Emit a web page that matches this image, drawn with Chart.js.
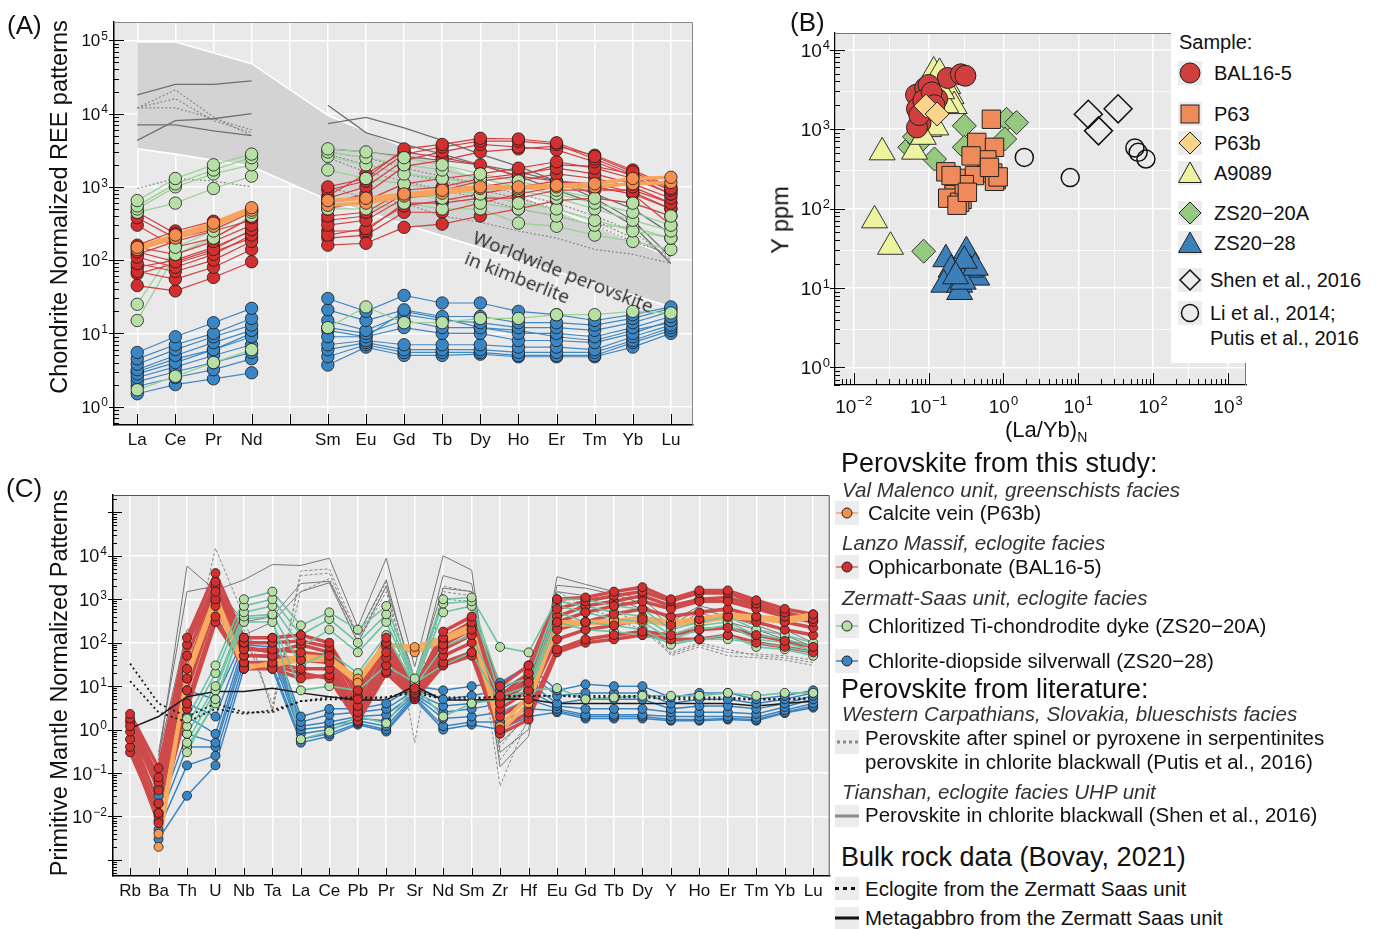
<!DOCTYPE html>
<html>
<head>
<meta charset="utf-8">
<title>Perovskite REE and trace element patterns</title>
<script src="https://cdn.jsdelivr.net/npm/chart.js@4.4.1/dist/chart.umd.min.js"></script>
<style>
  body { margin: 0; background: #fff; font-family: "Liberation Sans", Arial, sans-serif; color: #111; }
  #page { position: relative; width: 1381px; height: 929px; overflow: hidden; }
  canvas { position: absolute; }
  .t { position: absolute; white-space: nowrap; line-height: 1; }
  .panel { font-size: 26px; }
  .ytitle { font-size: 23.5px; transform: translate(-50%, -50%) rotate(-90deg); }
  .h { font-size: 27px; }
  .it { font-size: 20.6px; font-style: italic; color: #333; }
  .e { font-size: 20.5px; }
  .eb { font-size: 20px; }
  .key { position: absolute; background: #ececec; }
  .key svg { display: block; }
  #legB { position: absolute; left: 1171px; top: 30px; width: 210px; height: 333px; background: #fff; }
  .note { position: absolute; left: 478px; top: 226px; font-family: "Open Sans", sans-serif; font-size: 19px; line-height: 22px; color: #2a2a2a; transform-origin: 0 0; transform: rotate(21.5deg); white-space: nowrap; }
</style>
</head>
<body>
<div id="page">
  <canvas id="chartA" width="700" height="450" style="left:0;top:0"></canvas>
  <canvas id="chartB" width="621" height="450" style="left:760px;top:0"></canvas>
  <canvas id="chartC" width="835" height="459" style="left:0;top:470px"></canvas>

  <div class="t panel" style="left:7px;top:12px">(A)</div>
  <div class="t panel" style="left:790px;top:9px">(B)</div>
  <div class="t panel" style="left:6px;top:475px">(C)</div>

  <div class="t ytitle" style="left:60px;top:207px">Chondrite Normalized REE patterns</div>
  <div class="t ytitle" style="left:60px;top:683px">Primitive Mantle Normalized Patterns</div>
  <div class="t ytitle" style="left:781px;top:220px">Y ppm</div>
  <div class="t" style="left:1005px;top:419px;font-size:22px">(La/Yb)<sub style="font-size:14px">N</sub></div>

  <div class="note">Worldwide perovskite<br>in kimberlite</div>

  <!-- legend of panel B -->
  <div id="legB">
    <div class="t eb" style="left:8px;top:2px">Sample:</div>
    <div class="key" style="left:7px;top:31px;width:24px;height:24px"><svg width="24" height="24"><circle cx="12" cy="12" r="10" fill="#d13e3e" stroke="#222"/></svg></div>
    <div class="t eb" style="left:43px;top:33px">BAL16-5</div>
    <div class="key" style="left:7px;top:72px;width:24px;height:24px"><svg width="24" height="24"><rect x="3" y="3" width="18" height="18" fill="#ef8a5b" stroke="#222"/></svg></div>
    <div class="t eb" style="left:43px;top:74px">P63</div>
    <div class="key" style="left:7px;top:101px;width:24px;height:24px"><svg width="24" height="24"><polygon points="12,1 23,12 12,23 1,12" fill="#fbd48a" stroke="#222"/></svg></div>
    <div class="t eb" style="left:43px;top:103px">P63b</div>
    <div class="key" style="left:7px;top:131px;width:24px;height:24px"><svg width="24" height="24"><polygon points="12,1 23.5,21.5 0.5,21.5" fill="#eef3a0" stroke="#222"/></svg></div>
    <div class="t eb" style="left:43px;top:133px">A9089</div>
    <div class="key" style="left:7px;top:171px;width:24px;height:24px"><svg width="24" height="24"><polygon points="12,1 23,12 12,23 1,12" fill="#94c97f" stroke="#222"/></svg></div>
    <div class="t eb" style="left:43px;top:173px">ZS20&#8722;20A</div>
    <div class="key" style="left:7px;top:201px;width:24px;height:24px"><svg width="24" height="24"><polygon points="12,1 23.5,21.5 0.5,21.5" fill="#3b7fbb" stroke="#222"/></svg></div>
    <div class="t eb" style="left:43px;top:203px">ZS20&#8722;28</div>
    <div class="key" style="left:7px;top:238px;width:24px;height:24px"><svg width="24" height="24"><polygon points="12,2 22,12 12,22 2,12" fill="none" stroke="#111" stroke-width="1.5"/></svg></div>
    <div class="t eb" style="left:39px;top:240px">Shen et al., 2016</div>
    <div class="key" style="left:7px;top:271px;width:24px;height:24px"><svg width="24" height="24"><circle cx="12" cy="12" r="8.5" fill="none" stroke="#111" stroke-width="1.5"/></svg></div>
    <div class="t eb" style="left:39px;top:273px">Li et al., 2014;</div>
    <div class="t eb" style="left:39px;top:298px">Putis et al., 2016</div>
  </div>

  <!-- legend of panel C -->
  <div class="t h" style="left:841px;top:450px">Perovskite from this study:</div>
  <div class="t it" style="left:842px;top:480px">Val Malenco unit, greenschists facies</div>
  <div class="key" style="left:835px;top:501px;width:24px;height:24px"><svg width="24" height="24"><line x1="1" y1="12" x2="23" y2="12" stroke="#f7a35c" stroke-width="1.5"/><circle cx="12" cy="12" r="5" fill="#f58d4f" stroke="#222"/></svg></div>
  <div class="t e" style="left:868px;top:503px">Calcite vein (P63b)</div>
  <div class="t it" style="left:842px;top:533px">Lanzo Massif, eclogite facies</div>
  <div class="key" style="left:835px;top:555px;width:24px;height:24px"><svg width="24" height="24"><line x1="1" y1="12" x2="23" y2="12" stroke="#e06a6a" stroke-width="1.5"/><circle cx="12" cy="12" r="5" fill="#d32f2f" stroke="#222"/></svg></div>
  <div class="t e" style="left:868px;top:557px">Ophicarbonate (BAL16-5)</div>
  <div class="t it" style="left:842px;top:588px">Zermatt-Saas unit, eclogite facies</div>
  <div class="key" style="left:835px;top:614px;width:24px;height:24px"><svg width="24" height="24"><line x1="1" y1="12" x2="23" y2="12" stroke="#8fd19a" stroke-width="1.5"/><circle cx="12" cy="12" r="5" fill="#b6e0a5" stroke="#222"/></svg></div>
  <div class="t e" style="left:868px;top:616px">Chloritized Ti-chondrodite dyke (ZS20&#8722;20A)</div>
  <div class="key" style="left:835px;top:649px;width:24px;height:24px"><svg width="24" height="24"><line x1="1" y1="12" x2="23" y2="12" stroke="#3b84c2" stroke-width="1.5"/><circle cx="12" cy="12" r="5" fill="#3a85c4" stroke="#222"/></svg></div>
  <div class="t e" style="left:868px;top:651px">Chlorite-diopside silverwall (ZS20&#8722;28)</div>
  <div class="t h" style="left:841px;top:676px">Perovskite from literature:</div>
  <div class="t it" style="left:842px;top:704px">Western Carpathians, Slovakia, blueschists facies</div>
  <div class="key" style="left:835px;top:730px;width:24px;height:24px"><svg width="24" height="24"><line x1="2" y1="12" x2="23" y2="12" stroke="#888" stroke-width="3" stroke-dasharray="3,3"/></svg></div>
  <div class="t e" style="left:865px;top:728px">Perovskite after spinel or pyroxene in serpentinites</div>
  <div class="t e" style="left:865px;top:752px">perovskite in chlorite blackwall (Putis et al., 2016)</div>
  <div class="t it" style="left:842px;top:782px">Tianshan, eclogite facies UHP unit</div>
  <div class="key" style="left:835px;top:805px;width:24px;height:22px"><svg width="24" height="22"><line x1="0" y1="11" x2="24" y2="11" stroke="#888" stroke-width="3"/></svg></div>
  <div class="t e" style="left:865px;top:805px">Perovskite in chlorite blackwall (Shen et al., 2016)</div>
  <div class="t h" style="left:841px;top:844px">Bulk rock data (Bovay, 2021)</div>
  <div class="key" style="left:835px;top:877px;width:24px;height:23px"><svg width="24" height="23"><line x1="0" y1="11.5" x2="24" y2="11.5" stroke="#111" stroke-width="3" stroke-dasharray="4,4"/></svg></div>
  <div class="t e" style="left:865px;top:879px">Eclogite from the Zermatt Saas unit</div>
  <div class="key" style="left:835px;top:907px;width:24px;height:22px"><svg width="24" height="22"><line x1="0" y1="11" x2="24" y2="11" stroke="#111" stroke-width="3"/></svg></div>
  <div class="t e" style="left:865px;top:908px">Metagabbro from the Zermatt Saas unit</div>
</div>

<script>
// ---------------- data: panel A (chondrite normalized REE) ----------------
const reeLabels = ['La', 'Ce', 'Pr', 'Nd', '', 'Sm', 'Eu', 'Gd', 'Tb', 'Dy', 'Ho', 'Er', 'Tm', 'Yb', 'Lu'];

// worldwide kimberlite perovskite field (x = index in reeLabels)
const kimbX = [0, 1, 3, 5, 7, 14];
const kimbTop = [95000, 95000, 48000, 9500, 3500, 110];
const kimbBottom = [3300, 2800, 1900, 660, 310, 23];

const reeBal = [
  [450, 230, 300, 500, null, 1000, 1300, 3300, 3800, 4600, 4500, 4000, 2600, 1600, 950],
  [380, 200, 260, 450, null, 900, 1200, 2800, 3500, 4200, 4200, 3800, 2400, 1500, 900],
  [300, 150, 200, 380, null, 700, 1000, 2300, 3000, 3800, 3500, 3200, 2200, 1400, 800],
  [150, 120, 180, 300, null, 600, 800, 1900, 2300, 3000, 3300, 3600, 2700, 1700, 1000],
  [130, 95, 140, 260, null, 500, 650, 1100, 1300, 1500, 1800, 2200, 1800, 1300, 800],
  [110, 80, 120, 220, null, 400, 450, 900, 1000, 1300, 1500, 1800, 1500, 1100, 700],
  [90, 70, 100, 180, null, 300, 350, 700, 800, 1000, 1200, 1500, 1300, 1000, 600],
  [70, 55, 80, 140, null, 220, 270, 550, 650, 800, 1000, 1200, 1100, 850, 500],
  [45, 38, 58, 95, null, 160, 170, 280, 310, 400, 500, 650, 700, 600, 400],
  [120, 180, 250, 350, null, 250, 250, 600, 600, 700, 700, 900, 900, 900, 600],
  [160, 250, 340, 480, null, 750, 1500, 3000, 2500, 2000, 1400, 1200, 1000, 800, 500],
  [80, 100, 150, 250, null, 200, 220, 450, 450, 600, 800, 1000, 1000, 800, 300],
  [65, 90, 130, 200, null, 350, 400, 800, 900, 1200, 1400, 2000, 1900, 1500, 900]
];
const reeP63b = [
  [150, 220, 320, 520, null, 650, 700, 800, 900, 1000, 1000, 1050, 1100, 1300, 1350],
  [140, 200, 290, 480, null, 560, 600, 750, 820, 950, 950, 1000, 1000, 1100, 1150]
];
const reeZS20A = [
  [650, 1300, 2000, 2800, null, 3300, 3000, 2500, 2000, 1500, 1200, 900, 700, 600, 400],
  [550, 1100, 1700, 2500, null, 3000, 2500, 2000, 1700, 1300, 1000, 800, 600, 450, 300],
  [500, 1000, 1500, 2000, null, 2600, 2000, 1500, 1300, 1100, 900, 700, 500, 350, 250],
  [450, 600, 950, 1400, null, 1700, 1300, 1100, 900, 800, 600, 500, 350, 250, 200],
  [25, 150, 250, 450, null, 600, 700, 800, 700, 600, 500, 400, 300, 280, 200],
  [15, 120, 200, 400, null, 500, 500, 600, 500, 500, 320, 290, 220, 180, 140],
  [1.7, 2.6, 4, 6, null, 12, 23, 14, 14, 16, 16, 18, 18, 20, 19]
];
const reeZS28 = [
  [5.5, 9, 14, 22, null, 30, 20, 33, 26, 26, 20, 18, 15, 18, 23],
  [4.5, 7, 10, 16, null, 21, 15, 21, 17, 17, 14, 14, 13, 16, 22],
  [3.8, 6, 9, 13, null, 15, 11, 18, 15, 14, 12, 12, 11, 14, 20],
  [3.2, 5, 7.5, 11, null, 12, 10, 15, 12, 12, 10, 10, 9, 12, 17],
  [2.8, 4, 6, 9, null, 9, 9, 12, 10, 10, 8, 8, 7.5, 10, 15],
  [2.5, 3.5, 5, 7, null, 7, 8, 7, 7, 7, 6.5, 6.5, 6, 9, 13],
  [2.2, 3, 4, 5.5, null, 6, 7.5, 6, 6, 6, 5.5, 5.5, 5.5, 8, 12],
  [1.9, 2.5, 3.2, 4.5, null, 4.8, 7, 5.5, 5.5, 5.5, 5, 5, 5, 7.5, 11],
  [1.5, 2, 2.4, 2.9, null, 3.7, 6.5, 5, 5, 5.2, 4.8, 4.8, 4.8, 6.5, 10],
  [3, 4.5, 6, 10, null, 11, 9, 20, 16, 12, 11, 9, 8, 11, 14]
];
const reeShen = [
  [18000, 25000, 25000, 28000, null, 7300, 8900, 6400, 4300, 2800, 1900, 1200, 700, 350, 110],
  [7000, 7000, 5800, 5000, null, 13000, 5500, 3800, 2800, 2000, 1400, 900, 600, 300, 90],
  [4300, 8000, 8500, 10000, null, 3300, 3000, 2600, 2300, 2000, 1600, 1200, 800, 500, 230]
];
const reePutis = [
  [12000, 21000, 9000, 5000, null, 3000, 2500, 1800, 1400, 1100, 800, 600, 400, 250, 100],
  [12000, 16000, 8000, 5500, null, 2800, 2000, 1500, 1200, 900, 700, 500, 350, 200, 110],
  [12000, 12000, 8500, 6000, null, 2500, 1600, 1200, 900, 700, 500, 400, 300, 180, 120],
  [950, 1300, 1200, 1000, null, 1000, 700, 600, 400, 330, 250, 200, 140, 120, 90]
];

// ---------------- data: panel B ((La/Yb)N vs Y ppm) ----------------
const bBal = [[0.068, 2700], [0.09, 3300], [0.07, 1800], [0.078, 1200], [0.07, 1050], [0.13, 2400], [0.18, 4400],
  [0.27, 4900], [0.31, 4700], [0.1, 3600], [0.085, 2300], [0.11, 2900], [0.075, 1500], [0.12, 2000]];
const bP63 = [[0.69, 1330], [0.44, 680], [0.76, 590], [0.6, 410], [0.37, 460], [0.17, 290], [0.25, 240], [0.22, 180],
  [0.28, 130], [0.22, 150], [0.41, 260], [0.72, 280], [0.8, 230], [0.76, 220], [0.18, 135], [0.26, 120],
  [0.3, 200], [0.2, 260], [0.85, 250], [0.65, 330], [0.24, 110], [0.33, 160]];
const bP63b = [[0.092, 1950], [0.13, 1550]];
const bA9089 = [[0.024, 510], [0.019, 71], [0.031, 33], [0.065, 520], [0.1, 1000], [0.125, 1050], [0.117, 5300],
  [0.14, 5100], [0.18, 3500], [0.2, 2600], [0.22, 1950], [0.17, 2000], [0.15, 3000], [0.085, 800]];
const bZS20A = [[0.056, 590], [0.076, 680], [0.12, 420], [0.3, 1100], [0.3, 590], [1.1, 1330], [1.5, 1210],
  [1.04, 750], [0.086, 29], [0.065, 800]];
const bZS28 = [[0.17, 23], [0.2, 17], [0.16, 11], [0.32, 29], [0.26, 11], [0.26, 8.9], [0.44, 13.5], [0.36, 17],
  [0.29, 12], [0.42, 18], [0.3, 22], [0.23, 14]];
const bShen = [[13.6, 1540], [34, 1800], [18.6, 950]];
const bLi = [[1.9, 440], [7.8, 245], [57, 580], [63, 510], [80, 420]];

// ---------------- data: panel C (primitive mantle normalized) ----------------
const traceLabels = ['Rb', 'Ba', 'Th', 'U', 'Nb', 'Ta', 'La', 'Ce', 'Pb', 'Pr', 'Sr', 'Nd', 'Sm', 'Zr', 'Hf',
  'Eu', 'Gd', 'Tb', 'Dy', 'Y', 'Ho', 'Er', 'Tm', 'Yb', 'Lu'];

const pmBal = [
  [2.3, 0.13, 130, 4000, 130, 130, 150, 100, 8, 130, 9, 180, 400, 10, 30, 1000, 1100, 1500, 1900, 1000, 1600, 1600, 950, 600, 450],
  [1.8, 0.08, 90, 2500, 100, 100, 110, 80, 5, 100, 8, 130, 300, 6, 20, 600, 900, 1200, 1500, 900, 1400, 1400, 800, 500, 350],
  [1.2, 0.04, 25, 1500, 70, 70, 60, 50, 3.5, 60, 7, 90, 200, 4, 12, 300, 500, 700, 900, 600, 900, 900, 600, 400, 300],
  [0.9, 0.02, 15, 1000, 50, 50, 40, 35, 2.5, 45, 6.5, 70, 150, 3, 8, 200, 300, 450, 600, 400, 500, 600, 400, 300, 220],
  [0.6, 0.012, 8, 700, 35, 35, 25, 25, 2, 30, 6, 50, 100, 2, 5, 120, 200, 250, 350, 250, 350, 400, 300, 200, 150],
  [0.4, 0.007, 4, 400, 25, 25, 15, 18, 1.6, 22, 5.5, 35, 60, 1, 2.5, 70, 120, 150, 180, 150, 200, 220, 150, 110, 80],
  [0.3, 0.01, 3, 300, 30, 30, 20, 15, 1.5, 20, 5, 30, 50, 0.8, 1.7, 60, 100, 120, 150, 120, 120, 150, 100, 80, 60],
  [1.5, 0.06, 50, 2000, 80, 60, 90, 60, 6, 80, 7.5, 100, 250, 5, 15, 400, 700, 900, 1200, 700, 1000, 1100, 700, 450, 320]
];
const pmP63b = [
  [null, 0.002, 20, 1200, 30, 30, 40, 40, 12, 90, 80, 130, 250, 1.2, 6, 300, 300, 320, 380, 300, 350, 450, 400, 350, 450],
  [null, 0.004, 15, 900, 25, 35, 50, 45, 15, 100, 60, 110, 200, 0.9, 4, 250, 280, 280, 320, 260, 300, 380, 350, 300, 380]
];
const pmZS20A = [
  [null, null, 1.8, 30, 1000, 1500, 250, 500, 200, 700, 15, 1000, 1100, 80, 60, 1000, 1000, 700, 600, 200, 300, 400, 200, 150, 100],
  [null, null, 1.2, 20, 700, 1000, 150, 350, 100, 450, 13, 800, 900, 10, 15, 900, 700, 500, 400, 150, 250, 300, 150, 120, 80],
  [null, null, 0.8, 10, 500, 700, 80, 200, 60, 300, 11, 500, 700, 6, 10, 700, 500, 350, 300, 120, 200, 250, 120, 100, 65],
  [null, null, 0.5, 8, 400, 450, 30, 60, 20, 150, 10, 80, 150, 5, 8, 500, 300, 250, 200, 90, 120, 150, 80, 70, 50],
  [null, null, 0.3, 5, 300, 300, 8, 10, 8, 30, 12, 30, 60, 4, 7, 300, 200, 180, 150, 100, 120, 120, 100, 80, 60],
  [null, null, 0.4, 4, 350, 400, 0.6, 0.9, 2, 1.4, 10, 2, 4, 5, 8, 9, 5, 5.5, 6, 6, 6, 7, 6, 7, 7]
];
const pmZS28 = [
  [null, 0.045, 8, 5, 130, 130, 2, 3, 3, 4, 10, 8, 10, 12, 30, 8, 11, 10, 10, 5.5, 7, 7, 5, 6, 8],
  [null, 0.03, 4, 2, 110, 100, 1.5, 2.2, 2.5, 3, 8, 5, 6, 8, 20, 6, 7, 7, 7, 4, 5, 5, 4, 5, 7],
  [null, 0.02, 2, 0.8, 90, 80, 1.2, 1.5, 2, 2.2, 7, 3.5, 4, 6, 12, 4, 5, 5, 5, 3, 3.5, 3.5, 3, 4, 6],
  [null, 0.012, 0.8, 0.5, 70, 60, 1, 1.2, 1.8, 1.6, 6.5, 2.5, 3, 4, 8, 3.5, 3, 3, 3, 2.5, 2.5, 2.5, 2.3, 3.3, 5],
  [null, 0.008, 0.4, 0.4, 50, 45, 0.8, 1, 1.6, 1.2, 6, 1.8, 2, 2.5, 5, 3, 2.2, 2.2, 2.2, 2, 2, 2, 1.9, 2.8, 4],
  [null, 0.005, 0.15, 0.25, 35, 30, 0.6, 0.8, 1.4, 1, 5.5, 1.2, 1.5, 1.5, 3, 2.7, 2, 2, 2, 1.7, 1.7, 1.8, 1.7, 2.5, 3.5],
  [null, 0.003, 0.03, 0.15, 25, 25, 0.5, 0.7, 1.3, 0.9, 5, 1, 1.3, 1, 2, 2.5, 1.8, 1.8, 1.8, 1.6, 1.6, 1.7, 1.6, 2.4, 3.2]
];
const pmShen = [
  [null, 0.2, 5800, 1600, 2800, 6300, 6000, 8800, 230, 8800, 28, 10000, 4700, 0.14, 0.7, 3300, 2200, 1500, 1000, 300, 700, 500, 300, 200, 100],
  [null, 0.3, 1500, 2000, 300, 400, 2300, 2600, 150, 2800, 10, 3500, 2300, 0.3, 1, 2100, 1800, 1300, 800, 250, 600, 400, 250, 150, 80],
  [null, 0.25, 200, 300, 150, 300, 1500, 2400, 100, 2000, 15, 1800, 1500, 0.5, 2, 1500, 1200, 1000, 600, 200, 500, 300, 200, 120, 60]
];
const pmPutis = [
  [null, null, 20, 15000, 400, 2.5, 4500, 5000, 150, 2500, 0.5, 2000, 1500, 0.05, 2, 1500, 700, 500, 300, 50, 80, 50, 45, 40, 30],
  [null, null, 50, 3000, 200, 3, 3500, 4000, 120, 2000, 5, 1500, 1200, 0.2, 1.5, 1000, 600, 400, 250, 60, 100, 70, 50, 45, 35],
  [null, null, 10, 1000, 150, 4, 1500, 3000, 100, 1500, 8, 1000, 900, 0.4, 2.5, 700, 500, 350, 200, 55, 90, 60, 55, 50, 40]
];
const pmEclogite = [
  [33, 4, 2, 4, 2.5, 2.5, 4.5, 5.5, 5.5, 5.5, 8, 5.5, 5.5, 5.5, 6, 6, 6, 6, 6, 5.5, 5.5, 5.5, 5, 5, 5.5],
  [13, 2.5, 1.5, 3, 2.3, 2.8, 4.5, 5, 5, 5.5, 7, 5, 5, 6, 6, 6, 5.5, 5.5, 5.5, 5, 5, 5, 5, 5, 5]
];
const pmGabbro = [
  [1.07, 2, 5.7, 7.5, 7.5, 9, 7, 5.7, 4.8, 4.8, 10, 4.8, 4.8, 5, 5, 4, 4, 4, 4, 4, 4, 4, 3.5, 4, 4.5]
];

// ---------------- helpers ----------------
const FONT = '"Liberation Sans", Arial, sans-serif';
Chart.defaults.font.family = FONT;
Chart.defaults.color = '#111';

function decadeOf(v) {
  const e = Math.log10(v), r = Math.round(e);
  return Math.abs(e - r) < 1e-6 ? r : null;
}
function mantissa(v) { return v / Math.pow(10, Math.floor(Math.log10(v) + 1e-9)); }

// grey panel background and the thin top / right frame
const panelFrame = {
  id: 'panelFrame',
  beforeDraw(chart, args, opts) {
    const { ctx, chartArea: a } = chart;
    ctx.save();
    ctx.fillStyle = opts.fill;
    ctx.fillRect(a.left, a.top, a.right - a.left, a.bottom - a.top);
    ctx.restore();
  },
  afterDraw(chart, args, opts) {
    const { ctx, chartArea: a } = chart;
    ctx.save();
    ctx.strokeStyle = opts.edge;
    ctx.lineWidth = 1;
    ctx.beginPath();
    ctx.moveTo(a.left, a.top + 0.5);
    ctx.lineTo(a.right - 0.5, a.top + 0.5);
    ctx.lineTo(a.right - 0.5, a.bottom);
    ctx.stroke();
    ctx.restore();
  }
};

// tick marks pointing into the plot, like the original figure
const inwardTicks = {
  id: 'inwardTicks',
  beforeDatasetsDraw(chart, args, opts) {
    const { ctx, chartArea: a, scales } = chart;
    ctx.save();
    ctx.strokeStyle = '#000';
    ctx.lineWidth = 1;
    ctx.beginPath();
    const len = (v, isLog, major, minor) => {
      if (!isLog) return major;
      if (decadeOf(v) !== null) return major;
      const m = mantissa(v);
      return (Math.abs(m - Math.round(m)) < 1e-6 && m >= 2 && m <= 9) ? minor : 0;
    };
    const xs = scales.x, ys = scales.y;
    xs.ticks.forEach(t => {
      const l = len(t.value, xs.type === 'logarithmic', opts.xMajor, opts.xMinor);
      if (!l) return;
      const p = Math.round(xs.getPixelForValue(t.value)) + 0.5;
      ctx.moveTo(p, a.bottom); ctx.lineTo(p, a.bottom - l);
    });
    ys.ticks.forEach(t => {
      const l = len(t.value, true, opts.yMajor, opts.yMinor);
      if (!l) return;
      const p = Math.round(ys.getPixelForValue(t.value)) + 0.5;
      ctx.moveTo(a.left - (decadeOf(t.value) !== null ? 5 : 0), p); ctx.lineTo(a.left + l, p);
    });
    ctx.stroke();
    ctx.restore();
  }
};

// "10" with a raised exponent at every decade of the log axes
function powerLabels(axes) {
  return {
    id: 'powerLabels',
    afterDraw(chart) {
      const { ctx, chartArea: a } = chart;
      ctx.save();
      ctx.fillStyle = '#111';
      ctx.textBaseline = 'alphabetic';
      axes.forEach(ax => {
        const sc = chart.scales[ax.id];
        const base = ax.size + 'px ' + FONT, small = Math.round(ax.size * 0.68) + 'px ' + FONT;
        sc.ticks.forEach(t => {
          const e = decadeOf(t.value);
          if (e === null || e < ax.lo || e > ax.hi) return;
          const p = sc.getPixelForValue(t.value);
          const es = String(e).replace('-', '\u2212');
          ctx.font = base; const w1 = ctx.measureText('10').width;
          ctx.font = small; const w2 = ctx.measureText(es).width;
          let x0, y0;
          if (ax.id === 'y') {
            x0 = a.left - ax.gap - w1 - w2 - 1;
            y0 = p + ax.size * 0.36;
          } else {
            x0 = p - (w1 + w2 + 1) / 2;
            y0 = a.bottom + ax.gap + ax.size * 0.72;
          }
          ctx.font = base; ctx.fillText('10', x0, y0);
          ctx.font = small; ctx.fillText(es, x0 + w1 + 1, y0 - ax.size * 0.38);
        });
      });
      ctx.restore();
    }
  };
}

function rowPoints(row) { return row.map((v, i) => ({ x: i, y: v })); }

function groupSets(rows, line, point, lineOrder, pointOrder) {
  const sets = [];
  rows.forEach(row => {
    sets.push(Object.assign({ data: rowPoints(row), pointRadius: 0, spanGaps: false, fill: false, order: lineOrder }, line));
    if (point) sets.push(Object.assign({ data: rowPoints(row), showLine: false, order: pointOrder }, point));
  });
  return sets;
}

const whiteDecades = (lo, hi) => c => {
  const e = decadeOf(c.tick.value);
  return e !== null && e >= lo && e <= hi ? '#ffffff' : 'rgba(0,0,0,0)';
};

// ---------------- panel A ----------------
const dotA = (fill) => ({ pointRadius: 6.2, pointBackgroundColor: fill, pointBorderColor: '#1a1a1a', pointBorderWidth: 0.8 });

const setsA = [].concat(
  groupSets(reeP63b, { borderColor: '#f7a35c', borderWidth: 3.5 }, dotA('#f58d4f'), 20, 1),
  groupSets(reeBal, { borderColor: '#d63c3c', borderWidth: 1.2 }, dotA('#d32f2f'), 21, 3),
  groupSets(reeZS20A, { borderColor: '#9bd196', borderWidth: 1.3 }, dotA('#b6e0a5'), 22, 2),
  groupSets(reeZS28, { borderColor: '#3f88c5', borderWidth: 1.2 }, dotA('#3a85c4'), 23, 4),
  groupSets(reeShen, { borderColor: '#707070', borderWidth: 1.3 }, null, 24, 0),
  groupSets(reePutis, { borderColor: '#8a8a8a', borderWidth: 1.2, borderDash: [2, 2] }, null, 25, 0),
  [
    { data: kimbX.map((x, i) => ({ x, y: kimbTop[i] })), borderColor: '#ffffff', borderWidth: 1.6,
      backgroundColor: '#d3d3d3', fill: '+1', pointRadius: 0, order: 50 },
    { data: kimbX.map((x, i) => ({ x, y: kimbBottom[i] })), borderColor: '#ffffff', borderWidth: 1.6,
      fill: false, pointRadius: 0, order: 49 }
  ]
);

new Chart(document.getElementById('chartA'), {
  type: 'line',
  data: { datasets: setsA },
  plugins: [panelFrame, inwardTicks, powerLabels([{ id: 'y', size: 17, gap: 6, lo: 0, hi: 5 }])],
  options: {
    responsive: false, animation: false, devicePixelRatio: 1,
    layout: { padding: { top: 22, right: 3, left: 0, bottom: 0 } },
    elements: { line: { tension: 0 } },
    plugins: {
      legend: { display: false }, tooltip: { enabled: false },
      panelFrame: { fill: '#e9e9e9', edge: '#8a8a8a' },
      inwardTicks: { xMajor: 11, xMinor: 0, yMajor: 10, yMinor: 5 }
    },
    scales: {
      x: {
        type: 'linear', min: -0.61, max: 14.58,
        afterFit: s => { s.height = 25; },
        afterBuildTicks: s => { s.ticks = reeLabels.map((_, i) => ({ value: i })); },
        border: { color: '#000', width: 1.5 },
        grid: { color: '#ffffff', lineWidth: 1.5, tickLength: 3, tickColor: 'rgba(0,0,0,0)' },
        ticks: { autoSkip: false, maxRotation: 0, padding: 2, font: { size: 17 }, color: '#111',
          callback: v => reeLabels[Math.round(v)] }
      },
      y: {
        type: 'logarithmic', min: Math.pow(10, -0.25), max: Math.pow(10, 5.25),
        afterFit: s => { s.width = 114; },
        border: { color: '#000', width: 1.5 },
        grid: { color: whiteDecades(0, 5), lineWidth: 1.5, drawTicks: false },
        ticks: { display: false, autoSkip: false }
      }
    }
  }
});

// ---------------- panel B ----------------
const toXY = pairs => pairs.map(p => ({ x: p[0], y: p[1] }));
const setsB = [
  { data: toXY(bLi), pointStyle: 'circle', pointRadius: 9, backgroundColor: 'rgba(0,0,0,0)', borderColor: '#111', borderWidth: 1.5 },
  { data: toXY(bShen), pointStyle: 'rectRot', pointRadius: 14, backgroundColor: 'rgba(0,0,0,0)', borderColor: '#111', borderWidth: 1.5 },
  { data: toXY(bP63b), pointStyle: 'rectRot', pointRadius: 12, backgroundColor: '#fbd48a', borderColor: '#222', borderWidth: 1 },
  { data: toXY(bP63), pointStyle: 'rect', pointRadius: 13, backgroundColor: '#ef8a5b', borderColor: '#222', borderWidth: 1 },
  { data: toXY(bBal), pointStyle: 'circle', pointRadius: 10.5, backgroundColor: '#d13e3e', borderColor: '#222', borderWidth: 1 },
  { data: toXY(bA9089), pointStyle: 'triangle', pointRadius: 15, backgroundColor: '#eef3a0', borderColor: '#333', borderWidth: 1 },
  { data: toXY(bZS20A), pointStyle: 'rectRot', pointRadius: 12, backgroundColor: '#94c97f', borderColor: '#333', borderWidth: 1 },
  { data: toXY(bZS28), pointStyle: 'triangle', pointRadius: 15, backgroundColor: '#3b7fbb', borderColor: '#222', borderWidth: 1 }
];

const gridB = c => {
  const v = c.tick.value;
  if (decadeOf(v) !== null) return '#ffffff';
  const m = mantissa(v);
  return Math.abs(m - 3) < 1e-6 ? 'rgba(255,255,255,0.85)' : 'rgba(0,0,0,0)';
};
const gridBWidth = c => (decadeOf(c.tick.value) !== null ? 1.5 : 0.9);

new Chart(document.getElementById('chartB'), {
  type: 'scatter',
  data: { datasets: setsB },
  plugins: [panelFrame, inwardTicks, powerLabels([
    { id: 'x', size: 19, gap: 14, lo: -2, hi: 3 },
    { id: 'y', size: 19, gap: 5, lo: 0, hi: 4 }
  ])],
  options: {
    responsive: false, animation: false, devicePixelRatio: 1,
    layout: { padding: { top: 33, right: 135, left: 0, bottom: 0 } },
    plugins: {
      legend: { display: false }, tooltip: { enabled: false },
      panelFrame: { fill: '#e9e9e9', edge: '#777' },
      inwardTicks: { xMajor: 12, xMinor: 6, yMajor: 10, yMinor: 5 }
    },
    scales: {
      x: {
        type: 'logarithmic', min: Math.pow(10, -2.25), max: Math.pow(10, 3.24),
        afterFit: s => { s.height = 65; },
        border: { color: '#000', width: 1.2 },
        grid: { color: gridB, lineWidth: gridBWidth, drawTicks: false },
        ticks: { display: false, autoSkip: false }
      },
      y: {
        type: 'logarithmic', min: Math.pow(10, -0.2), max: Math.pow(10, 4.21),
        afterFit: s => { s.width = 75; },
        border: { color: '#000', width: 1.2 },
        grid: { color: gridB, lineWidth: gridBWidth, drawTicks: false },
        ticks: { display: false, autoSkip: false }
      }
    }
  }
});

// ---------------- panel C ----------------
const dotC = (fill) => ({ pointRadius: 4.5, pointBackgroundColor: fill, pointBorderColor: '#1a1a1a', pointBorderWidth: 0.8 });

const setsC = [].concat(
  groupSets(pmEclogite, { borderColor: '#1a1a1a', borderWidth: 1.8, borderDash: [2, 3] }, null, 18, 0),
  groupSets(pmGabbro, { borderColor: '#1a1a1a', borderWidth: 1.5 }, null, 19, 0),
  groupSets(pmZS20A, { borderColor: '#6cc4a2', borderWidth: 1.6 }, dotC('#b6e0a5'), 20, 3),
  groupSets(pmP63b, { borderColor: '#f8ab5e', borderWidth: 4 }, dotC('#f79a4e'), 21, 2),
  groupSets(pmBal, { borderColor: '#cf4a4a', borderWidth: 3.5 }, dotC('#d32f2f'), 22, 1),
  groupSets(pmZS28, { borderColor: '#3b84c2', borderWidth: 1.5 }, dotC('#3a85c4'), 23, 4),
  groupSets(pmShen, { borderColor: '#777777', borderWidth: 1 }, null, 26, 0),
  groupSets(pmPutis, { borderColor: '#8a8a8a', borderWidth: 1, borderDash: [3, 2] }, null, 27, 0)
);

new Chart(document.getElementById('chartC'), {
  type: 'line',
  data: { datasets: setsC },
  plugins: [panelFrame, inwardTicks, powerLabels([{ id: 'y', size: 18, gap: 6, lo: -2, hi: 4 }])],
  options: {
    responsive: false, animation: false, devicePixelRatio: 1,
    layout: { padding: { top: 25, right: 5, left: 0, bottom: 0 } },
    elements: { line: { tension: 0 } },
    plugins: {
      legend: { display: false }, tooltip: { enabled: false },
      panelFrame: { fill: '#e9e9e9', edge: '#555' },
      inwardTicks: { xMajor: 8, xMinor: 0, yMajor: 9, yMinor: 4 }
    },
    scales: {
      x: {
        type: 'linear', min: -0.6, max: 24.58,
        afterFit: s => { s.height = 53; },
        afterBuildTicks: s => { s.ticks = traceLabels.map((_, i) => ({ value: i })); },
        border: { color: '#000', width: 1.5 },
        grid: { color: '#ffffff', lineWidth: 1.5, tickLength: 3, tickColor: 'rgba(0,0,0,0)' },
        ticks: { autoSkip: false, maxRotation: 0, padding: 2, font: { size: 17 }, color: '#111',
          callback: v => traceLabels[Math.round(v)] }
      },
      y: {
        type: 'logarithmic', min: Math.pow(10, -3.37), max: Math.pow(10, 5.4),
        afterFit: s => { s.width = 113; },
        border: { color: '#000', width: 1.5 },
        grid: { color: whiteDecades(-2, 4), lineWidth: 1.5, drawTicks: false },
        ticks: { display: false, autoSkip: false }
      }
    }
  }
});
</script>
</body>
</html>
